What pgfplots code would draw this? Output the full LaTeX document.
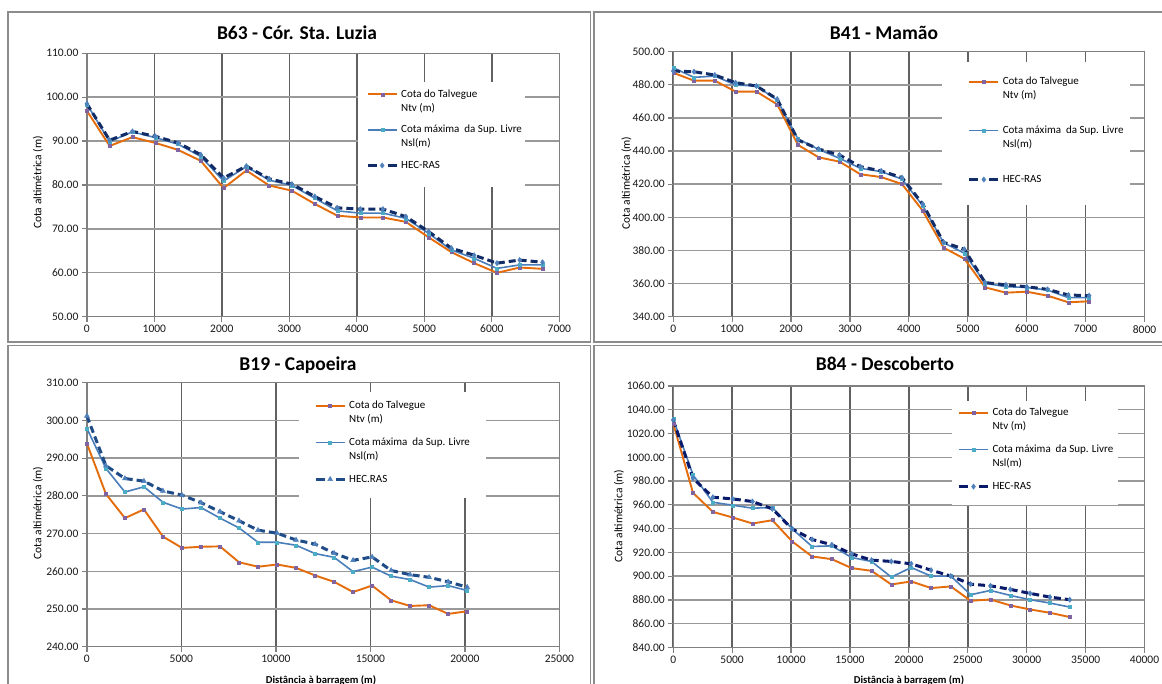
\documentclass[border=0pt]{standalone}
\usepackage{fontspec}
\setmainfont{Carlito}
\usepackage{pgfplots}
\pgfplotsset{compat=1.18}

\definecolor{talv}{HTML}{E46C0A}
\definecolor{talvmk}{HTML}{8064A2}
\definecolor{nsl}{HTML}{4A7EBB}
\definecolor{nslmk}{HTML}{4BACC6}
\definecolor{hec}{HTML}{112C66}
\definecolor{hecb}{HTML}{1F4B87}
\definecolor{hecd}{HTML}{0A1A6B}
\definecolor{hecmk}{HTML}{4F81BD}
\definecolor{frame}{HTML}{8C8C8C}

\newcommand\tickfont{\fontsize{11.5}{13}\selectfont}
\newcommand\legfont{\fontsize{11}{14.3}\selectfont}
\newcommand\titlefont{\fontsize{19.5}{23}\selectfont\bfseries}
\newcommand\xlabfont{\fontsize{10.6}{12}\selectfont\bfseries}
\newcommand\ylabfont{\fontsize{11.5}{13}\selectfont}
% legend texts: the box is declared around the first line only,
% so the sample line sits level with it and the second line hangs below
\newcommand\twoline[2]{\raisebox{0pt}[7pt][0pt]{\begin{tabular}[t]{@{}l@{}}#1\\#2\end{tabular}}}
\newcommand\oneline[1]{\raisebox{0pt}[7pt][0pt]{#1}}

\pgfplotsset{
  legline/.style={legend image code/.code={%
      \draw[mark repeat=2,mark phase=2] plot coordinates {(0pt,0pt) (14.5pt,0pt) (29pt,0pt)};}},
  hecleg/.style={legend image code/.code={%
      \draw[mark repeat=2,mark phase=2,dash pattern=on 9pt off 11pt] plot coordinates {(0pt,0pt) (14.5pt,0pt) (29pt,0pt)};}},
  talvline/.style={color=talv, line width=1.9pt, mark=square*, mark size=1.5pt,
      mark options={fill=talvmk, draw=talvmk, line width=0.4pt, solid}, legline},
  nslline/.style={color=nsl, line width=1.6pt, mark=square*, mark size=1.5pt,
      mark options={fill=nslmk, draw=nslmk, line width=0.4pt, solid}, legline},
  hecline/.style={color=#1, line width=3pt, dash pattern=on 7pt off 4pt, mark=diamond*, mark size=2.6pt,
      mark options={fill=hecmk, draw=hecmk, line width=0.5pt, solid}, hecleg},
  panel/.style={
    scale only axis, anchor=south west, clip=false,
    grid=major,
    x grid style={draw=black!62, line width=1.5pt},
    y grid style={draw=black!40, line width=1.4pt},
    axis line style={draw=black!50, line width=1.3pt},
    tick style={draw=black!50, line width=1.2pt},
    tick align=outside, major tick length=5pt,
    xtick pos=left, ytick pos=left,
    scaled ticks=false,
    tick label style={font=\tickfont, text=black!90, /pgf/number format/assume math mode=true},
    xticklabel style={/pgf/number format/set thousands separator={}},
    yticklabel style={/pgf/number format/set thousands separator={}, /pgf/number format/fixed,
      /pgf/number format/fixed zerofill, /pgf/number format/precision=2},
    legend cell align=left,
    legend style={draw=none, fill=none, anchor=north west, inner sep=0pt,
      font=\legfont, nodes={inner sep=0pt}, column sep=3pt},
  },
}

\begin{document}
\begin{tikzpicture}
\useasboundingbox (0pt,0pt) rectangle (1162pt,-684pt);
\fill[white] (0pt,0pt) rectangle (1162pt,-684pt);

% panel frames
\draw[frame, line width=1.5pt] (8pt,-12pt) rectangle (590.5pt,-342pt);
\draw[frame, line width=1.5pt] (594pt,-12pt) rectangle (1175pt,-342pt);
\draw[frame, line width=1.5pt] (8pt,-345.5pt) rectangle (590.5pt,-700pt);
\draw[frame, line width=1.5pt] (594pt,-345.5pt) rectangle (1175pt,-700pt);

% ---------------- B63 ----------------
\begin{axis}[panel, at={(86.9pt,-316.7pt)}, width=472.5pt, height=263.4pt,
  xmin=0, xmax=7000, ymin=50, ymax=110,
  xtick={0,1000,...,7000}, ytick={50,60,...,110},
  legend style={at={(0.5907,0.8613)}, row sep=27.1pt}]
\fill[white] (rel axis cs:0.5738,0.4924) rectangle (rel axis cs:0.9273,0.8911);
\addplot[talvline] coordinates {
 (0,96.9) (337,88.9) (675,90.9) (1012,89.6) (1350,88.0) (1687,85.5) (2025,79.3)
 (2362,83.3) (2700,79.9) (3037,78.7) (3375,75.7) (3712,73.0) (4050,72.6) (4387,72.6)
 (4725,71.6) (5062,68.1) (5400,64.7) (5737,62.2) (6075,60.0) (6412,61.2) (6750,60.9)};
\addlegendentry{\twoline{Cota do Talvegue}{Ntv (m)}}
\addplot[nslline] coordinates {
 (0,98.4) (337,89.9) (675,92.1) (1012,90.8) (1350,89.3) (1687,86.5) (2025,80.9)
 (2362,84.2) (2700,81.1) (3037,79.9) (3375,77.0) (3712,74.1) (4050,73.6) (4387,73.6)
 (4725,72.4) (5062,69.0) (5400,65.2) (5737,63.3) (6075,61.0) (6412,61.8) (6750,61.8)};
\addlegendentry{\twoline{Cota máxima~ da Sup. Livre}{Nsl(m)}}
\addplot[hecline=hec] coordinates {
 (0,98.5) (337,90.2) (675,92.2) (1012,91.1) (1350,89.6) (1687,86.9) (2025,81.6)
 (2362,84.3) (2700,81.4) (3037,80.2) (3375,77.4) (3712,74.8) (4050,74.5) (4387,74.5)
 (4725,72.8) (5062,69.4) (5400,65.6) (5737,64.0) (6075,62.2) (6412,62.9) (6750,62.4)};
\addlegendentry{\oneline{HEC-RAS}}
\end{axis}

% ---------------- B41 ----------------
\begin{axis}[panel, at={(673.2pt,-316.7pt)}, width=471.3pt, height=265pt,
  xmin=0, xmax=8000, ymin=340, ymax=500,
  xtick={0,1000,...,8000}, ytick={340,360,...,500},
  legend style={at={(0.6247,0.9041)}, row sep=40.5pt}]
\fill[white] (rel axis cs:0.5703,0.4215) rectangle (rel axis cs:0.9692,0.9611);
\addplot[talvline] coordinates {
 (0,487.3) (353,482.5) (706,482.5) (1059,475.9) (1412,475.9) (1765,468.2) (2118,443.7)
 (2471,436.2) (2824,433.6) (3177,426.0) (3530,424.3) (3883,420.1) (4236,404.0) (4589,381.7)
 (4942,375.0) (5295,357.7) (5648,354.5) (6001,355.1) (6354,352.7) (6707,348.7) (7060,349.3)};
\addlegendentry{\twoline{Cota do Talvegue}{Ntv (m)}}
\addplot[nslline] coordinates {
 (0,490.3) (353,484.5) (706,485.3) (1059,479.9) (1412,479.3) (1765,470.8) (2118,447.3)
 (2471,441.0) (2824,435.6) (3177,429.6) (3530,427.6) (3883,423.1) (4236,407.0) (4589,384.7)
 (4942,378.3) (5295,360.2) (5648,358.1) (6001,357.7) (6354,356.1) (6707,351.5) (7060,351.5)};
\addlegendentry{\twoline{Cota máxima~ da Sup. Livre}{Nsl(m)}}
\addplot[hecline=hec] coordinates {
 (0,488.3) (353,487.9) (706,485.9) (1059,481.3) (1412,479.3) (1765,471.4) (2118,446.7)
 (2471,441.2) (2824,437.6) (3177,430.6) (3530,428.0) (3883,424.0) (4236,408.0) (4589,384.9)
 (4942,380.7) (5295,360.6) (5648,359.2) (6001,358.1) (6354,356.5) (6707,353.1) (7060,352.7)};
\addlegendentry{\oneline{HEC-RAS}}
\end{axis}

% ---------------- B19 ----------------
\begin{axis}[panel, at={(86.9pt,-646.7pt)}, width=472.5pt, height=264pt,
  xmin=0, xmax=25000, ymin=240, ymax=310,
  xtick={0,5000,...,25000}, ytick={240,250,...,310},
  legend style={at={(0.4806,0.9290)}, row sep=28.2pt}]
\fill[white] (rel axis cs:0.4489,0.5633) rectangle (rel axis cs:0.8447,0.9648);
\addplot[talvline] coordinates {
 (0,293.9) (1006,280.5) (2012,274.1) (3018,276.4) (4024,269.2) (5030,266.2) (6036,266.5)
 (7042,266.6) (8048,262.4) (9054,261.2) (10060,261.8) (11066,260.9) (12072,258.9) (13078,257.2)
 (14084,254.5) (15090,256.2) (16096,252.3) (17102,250.8) (18108,251.0) (19114,248.7) (20120,249.4)};
\addlegendentry{\twoline{Cota do Talvegue}{Ntv (m)}}
\addplot[nslline] coordinates {
 (0,297.9) (1006,287.3) (2012,281.0) (3018,282.4) (4024,278.3) (5030,276.5) (6036,276.9)
 (7042,274.1) (8048,271.5) (9054,267.7) (10060,267.7) (11066,266.9) (12072,264.7) (13078,263.7)
 (14084,259.9) (15090,261.1) (16096,258.7) (17102,257.8) (18108,255.8) (19114,256.2) (20120,254.9)};
\addlegendentry{\twoline{Cota máxima~ da Sup. Livre}{Nsl(m)}}
\addplot[hecline=hecb, mark=triangle*, mark size=2.8pt] coordinates {
 (0,301.2) (1006,288.0) (2012,284.6) (3018,283.9) (4024,281.3) (5030,280.2) (6036,278.2)
 (7042,275.8) (8048,273.4) (9054,270.9) (10060,270.1) (11066,268.3) (12072,267.2) (13078,264.8)
 (14084,262.9) (15090,263.8) (16096,260.2) (17102,259.1) (18108,258.4) (19114,257.2) (20120,255.8)};
\addlegendentry{\oneline{HEC.RAS}}
\end{axis}

% ---------------- B84 ----------------
\begin{axis}[panel, at={(673.2pt,-647.5pt)}, width=471.3pt, height=261.5pt,
  xmin=0, xmax=40000, ymin=840, ymax=1060,
  xtick={0,5000,...,40000}, ytick={840,860,...,1060},
  legend style={at={(0.6028,0.9153)}, row sep=28.5pt}]
\fill[white] (rel axis cs:0.5916,0.5449) rectangle (rel axis cs:0.9438,0.9426);
\addplot[talvline] coordinates {
 (0,1028.6) (1683,970.1) (3366,954.1) (5049,949.4) (6732,944.3) (8415,947.1) (10098,929.2)
 (11781,916.6) (13464,914.3) (15147,906.8) (16830,904.5) (18513,893.0) (20196,895.6) (21879,890.0)
 (23562,891.4) (25245,879.3) (26928,880.4) (28611,875.4) (30294,872.0) (31977,869.2) (33660,865.6)};
\addlegendentry{\twoline{Cota do Talvegue}{Ntv (m)}}
\addplot[nslline] coordinates {
 (0,1032.3) (1683,985.2) (3366,962.2) (5049,959.7) (6732,957.2) (8415,957.8) (10098,939.8)
 (11781,925.0) (13464,925.5) (15147,915.7) (16830,912.4) (18513,899.2) (20196,907.3) (21879,900.1)
 (23562,900.1) (25245,884.4) (26928,888.0) (28611,883.8) (30294,880.2) (31977,877.4) (33660,874.0)};
\addlegendentry{\twoline{Cota máxima~ da Sup. Livre}{Nsl(m)}}
\addplot[hecline=hecd] coordinates {
 (0,1031.4) (1683,982.4) (3366,966.4) (5049,965.0) (6732,962.8) (8415,956.6) (10098,939.8)
 (11781,930.9) (13464,926.4) (15147,918.8) (16830,913.5) (18513,912.4) (20196,910.4) (21879,905.1)
 (23562,900.1) (25245,893.3) (26928,891.9) (28611,888.9) (30294,885.5) (31977,882.4) (33660,880.2)};
\addlegendentry{\oneline{HEC-RAS}}
\end{axis}

% titles
\node[font=\titlefont, anchor=base] at (297pt,-40pt) {B63 - Cór. Sta. Luzia};
\node[font=\titlefont, anchor=base] at (884pt,-40pt) {B41 - Mamão};
\node[font=\titlefont, anchor=base] at (298pt,-371pt) {B19 - Capoeira};
\node[font=\titlefont, anchor=base] at (885pt,-370.5pt) {B84 - Descoberto};

% axis titles
\node[font=\ylabfont, rotate=90] at (38pt,-182.5pt) {Cota altimétrica (m)};
\node[font=\ylabfont, rotate=90] at (626.5pt,-183pt) {Cota altimétrica (m)};
\node[font=\ylabfont, rotate=90] at (38pt,-513pt) {Cota altimétrica (m)};
\node[font=\ylabfont, rotate=90] at (619pt,-516pt) {Cota altimétrica (m)};
\node[font=\xlabfont, anchor=base] at (321pt,-683.5pt) {Distância à barragem (m)};
\node[font=\xlabfont, anchor=base] at (909pt,-683.5pt) {Distância à barragem (m)};
\end{tikzpicture}
\end{document}
